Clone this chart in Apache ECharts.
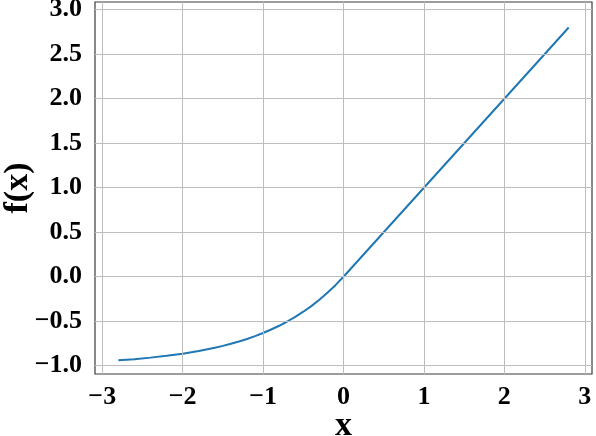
<!DOCTYPE html>
<html>
<head>
<meta charset="utf-8">
<script src="https://cdn.jsdelivr.net/npm/echarts@6/dist/echarts.min.js"></script>
<style>html,body{margin:0;padding:0;background:#fff}#c{width:596px;height:436px}</style>
</head>
<body>
<div id="c"></div>
<script>
const xValues = [-2.8,-2.6,-2.4,-2.2,-2.0,-1.8,-1.6,-1.5,-1.4,-1.3,-1.2,-1.1,-1.0,-0.9,-0.8,-0.7,-0.6,-0.5,-0.4,-0.3,-0.2,-0.1,0.0,0.5,1.0,1.5,2.0,2.5,2.8];
const yValues = [-0.939,-0.926,-0.909,-0.889,-0.865,-0.835,-0.798,-0.777,-0.753,-0.727,-0.699,-0.667,-0.632,-0.593,-0.551,-0.503,-0.451,-0.393,-0.330,-0.259,-0.181,-0.095,0.0,0.5,1.0,1.5,2.0,2.5,2.8];
const xTicks = [-3,-2,-1,0,1,2,3];
const yTicks = [-1.0,-0.5,0.0,0.5,1.0,1.5,2.0,2.5,3.0];

const font = 'Liberation Serif';
const minus = s => String(s).replace('-', '\u2212');

const chart = echarts.init(document.getElementById('c'), null, {renderer:'canvas'});
chart.setOption({
  animation: false,
  grid: {left: 95, right: 4, top: 2, bottom: 62, show: true, borderColor: '#3a3a3a', borderWidth: 1.2, backgroundColor: 'transparent', outerBoundsMode: 'none', containLabel: false},
  xAxis: {
    type: 'value', min: -3.09, max: 3.09,
    name: 'x', nameLocation: 'middle', nameGap: 35, nameMoveOverlap: false,
    nameTextStyle: {fontFamily: font, fontWeight: 'bold', fontSize: 34, color: '#000'},
    axisLine: {show: false},
    axisTick: {show: true, customValues: xTicks, length: 5, lineStyle: {color: '#333'}},
    axisLabel: {customValues: xTicks, margin: 10, fontFamily: font, fontWeight: 'bold', fontSize: 26, color: '#000', formatter: v => minus(v)},
    splitLine: {show: false}
  },
  yAxis: {
    type: 'value', min: -1.093, max: 3.087,
    name: 'f(x)', nameLocation: 'middle', nameGap: 60, nameMoveOverlap: false,
    nameTextStyle: {fontFamily: font, fontWeight: 'bold', fontSize: 34, color: '#000'},
    axisLine: {show: false},
    axisTick: {show: true, customValues: yTicks, length: 5, lineStyle: {color: '#333'}},
    axisLabel: {customValues: yTicks, margin: 13, fontFamily: font, fontWeight: 'bold', fontSize: 26, color: '#000', formatter: v => minus(v.toFixed(1))},
    splitLine: {show: false}
  },
  series: [{
    type: 'line',
    data: xValues.map((x, i) => [x, yValues[i]]),
    showSymbol: false, smooth: false,
    lineStyle: {color: '#1f77b4', width: 2},
    markLine: {
      silent: true, symbol: 'none', label: {show: false},
      lineStyle: {color: '#bdbdbd', width: 1, type: 'solid'},
      data: xTicks.map(v => ({xAxis: v})).concat(yTicks.map(v => ({yAxis: v})))
    },
    z: 3
  }]
});
</script>
</body>
</html>
